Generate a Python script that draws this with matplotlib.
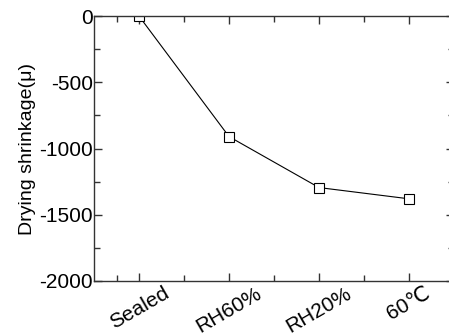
import numpy as np
import matplotlib
matplotlib.use("Agg")
import matplotlib.pyplot as plt
from matplotlib.ticker import FixedLocator, MultipleLocator

plt.rcParams['font.family'] = ['Liberation Sans', 'DejaVu Sans']
plt.rcParams['axes.unicode_minus'] = False

#### Data
conditions = ["Sealed", "RH60%", "RH20%", "60\u2103"]
shrinkage = [0, -910, -1295, -1380]

#### Plot
fig = plt.figure(figsize=(4.49, 3.36), dpi=100)
ax = fig.add_axes([0.2094, 0.164, 0.8018, 0.788])

x = np.arange(len(conditions))
ax.plot(x, shrinkage, color='black', linewidth=0.8, marker='s',
        markersize=6.5, markerfacecolor='white', markeredgecolor='black',
        markeredgewidth=0.8)

ax.set_xlim(-0.5, 3.5)
ax.set_ylim(-2000, 0)
ax.set_xticks(x)
ax.set_xticklabels(conditions, rotation=30, fontsize=15, ha='center')
ax.xaxis.set_minor_locator(FixedLocator([-0.25, 0.5, 1.5, 2.5]))
ax.yaxis.set_major_locator(MultipleLocator(500))
ax.yaxis.set_minor_locator(MultipleLocator(250))
ax.tick_params(axis='y', labelsize=15)
ax.tick_params(which='both', direction='in', top=True, right=True,
               color='#333333', width=1.0)
ax.tick_params(which='major', length=6)
ax.tick_params(which='minor', length=4)
ax.tick_params(axis='x', pad=2)
ax.tick_params(axis='y', pad=1)

for s in ax.spines.values():
    s.set_linewidth(1.0)
    s.set_color('#333333')

ax.set_ylabel('Drying shrinkage(\u03bc)', fontsize=14, labelpad=2)

fig.savefig('out.png', dpi=100)
